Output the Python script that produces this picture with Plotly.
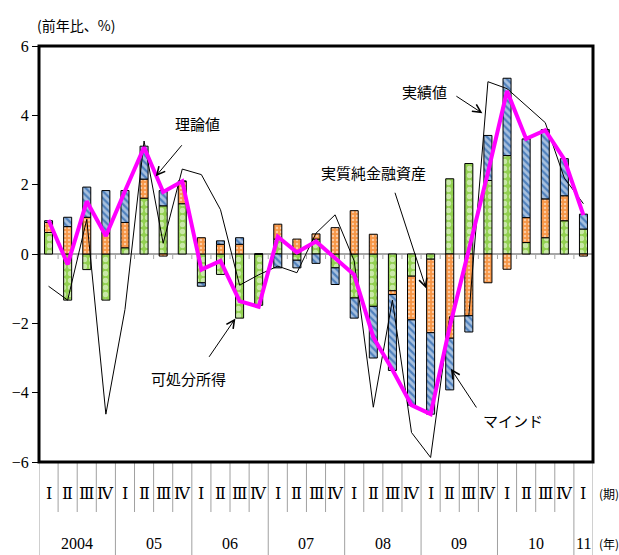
import plotly.graph_objects as go

# Quarters 2004 Q1 .. 2011 Q1
quarter_labels = ["Ⅰ", "Ⅱ", "Ⅲ", "Ⅳ"] * 7 + ["Ⅰ"]
year_labels = ["2004", "05", "06", "07", "08", "09", "10", "11"]

# Contributions (year-on-year, %)
disposable_income = [0.62, -1.33, -0.45, -1.33, 0.18, 1.61, 1.39, 1.45, -0.83, -0.59,
                     -1.85, -1.48, 0.43, -0.18, 0.43, -0.40, -1.27, -1.51, -1.06, -0.64,
                     -0.15, 2.17, 2.61, 2.12, 2.84, 0.33, 0.47, 0.96, 0.72]
net_financial_assets = [0.29, 0.79, 1.06, 0.60, 0.73, 0.55, -0.06, 0.65, 0.47, 0.28,
                        0.28, 0.0, 0.43, 0.43, 0.15, 0.76, 1.25, 0.57, -0.11, -1.26,
                        -2.12, -2.43, -1.78, -0.83, -0.44, 0.72, 1.12, 0.72, -0.06]
sentiment = [0.05, 0.27, 0.87, 1.23, 0.92, 0.95, 0.44, 0.0, -0.10, 0.10,
             0.19, 0.0, -0.40, -0.22, -0.27, -0.48, -0.58, -1.49, -2.19, -2.46,
             -2.35, -1.49, -0.47, 1.30, 2.23, 2.27, 2.00, 1.07, 0.43]

# Actual and model values (%)
actual = [-0.93, -1.33, 1.0, -4.62, -1.6, 3.26, 0.31, 2.45, 2.29, 1.28,
          -0.90, -0.60, -0.35, -0.54, 0.60, 1.13, -0.20, -4.42, -1.33, -5.15,
          -5.87, -1.80, -1.78, 4.97, 4.77, 4.27, 3.79, 2.19, 1.45]
theoretical = [0.98, -0.30, 1.52, 0.52, 1.82, 3.08, 1.79, 2.10, -0.45, -0.20,
               -1.36, -1.52, 0.50, 0.05, 0.36, -0.12, -0.60, -2.40, -3.34, -4.36,
               -4.62, -2.10, 0.10, 2.35, 4.70, 3.32, 3.57, 2.73, 1.12]

n = len(quarter_labels)
x = list(range(n))

BAR_W = 0.42
GREEN = "#92D050"
ORANGE = "#F79646"
BLUE = "#4F81BD"
SERIF = "'Liberation Serif', 'DejaVu Serif', serif"
ROMAN = "'DejaVu Serif', 'Noto Sans CJK JP', serif"
JP = "'Noto Sans CJK JP', sans-serif"

fig = go.Figure()

# coloured ground with white holes / stripes
bar_specs = [
    ("可処分所得", disposable_income, GREEN,
     dict(shape=".", fgcolor="white", bgcolor=GREEN, size=7, solidity=0.45)),
    ("実質純金融資産", net_financial_assets, ORANGE,
     dict(shape=".", fgcolor="white", bgcolor=ORANGE, size=4, solidity=0.3)),
    ("マインド", sentiment, BLUE,
     dict(shape="\\", fgcolor="white", bgcolor=BLUE, size=5, solidity=0.55)),
]
for name, vals, col, pat in bar_specs:
    fig.add_trace(go.Bar(
        x=x, y=vals, name=name, width=BAR_W,
        marker=dict(color=col, pattern=pat, line=dict(color="black", width=1)),
    ))

fig.add_trace(go.Scatter(x=x, y=actual, mode="lines", name="実績値",
                         line=dict(color="black", width=1)))
fig.add_trace(go.Scatter(x=x, y=theoretical, mode="lines", name="理論値",
                         line=dict(color="#FF00FF", width=4)))

shapes = []
# zero line with small ticks at quarter boundaries
shapes.append(dict(type="line", xref="x", yref="y", x0=-0.5, x1=n - 0.5, y0=0, y1=0,
                   line=dict(color="#A6A6A6", width=2), layer="below"))
for k in range(1, n):
    shapes.append(dict(type="line", xref="x", yref="y", ysizemode="pixel", yanchor=0,
                       x0=k - 0.5, x1=k - 0.5, y0=0, y1=-5,
                       line=dict(color="#A6A6A6", width=1), layer="below"))

# category separators below the plot
for k in range(n + 1):
    is_year = (k % 4 == 0) or k == n
    depth = 93 if is_year else 50
    shapes.append(dict(type="line", xref="x", yref="paper", ysizemode="pixel", yanchor=0,
                       x0=k - 0.5, x1=k - 0.5, y0=0, y1=-depth,
                       line=dict(color="#A0A0A0", width=1)))

# plot frame
shapes.append(dict(type="rect", xref="paper", yref="paper", x0=0, x1=1, y0=0, y1=1,
                   line=dict(color="black", width=3)))

annotations = []
for i, q in enumerate(quarter_labels):
    annotations.append(dict(x=i, y=0, xref="x", yref="paper", yshift=-31, text=q,
                            xanchor="center", yanchor="middle", showarrow=False,
                            font=dict(family=ROMAN, size=16, color="black")))
for j, yl in enumerate(year_labels):
    cx = 4 * j + 1.5 if j < 7 else 28
    annotations.append(dict(x=cx, y=0, xref="x", yref="paper", yshift=-81, text=yl,
                            xanchor="center", yanchor="middle", showarrow=False,
                            font=dict(family=SERIF, size=16, color="black")))

annotations.append(dict(x=1.0287, y=0, xref="paper", yref="paper", yshift=-31, text="(期)",
                        xanchor="center", yanchor="middle", showarrow=False,
                        font=dict(family=JP, size=12, color="black")))
annotations.append(dict(x=1.0287, y=0, xref="paper", yref="paper", yshift=-81, text="(年)",
                        xanchor="center", yanchor="middle", showarrow=False,
                        font=dict(family=JP, size=12, color="black")))
annotations.append(dict(x=0.066, y=1, xref="paper", yref="paper", yshift=21, text="(前年比、%)",
                        xanchor="center", yanchor="middle", showarrow=False,
                        font=dict(family=JP, size=14, color="black")))

# labels with leader arrows (positions in category / value units)
labels = [
    ("理論値", (7.78, 3.77), (7.04, 3.18), (5.61, 2.24)),
    ("実績値", (19.66, 4.70), (21.27, 4.58), (22.71, 4.06)),
    ("実質純金融資産", (17.0, 2.35), (18.11, 1.81), (19.76, -0.99)),
    ("可処分所得", (7.31, -3.59), (8.35, -3.01), (9.78, -1.86)),
    ("マインド", (24.29, -4.81), (22.45, -4.47), (21.06, -3.31)),
]
for txt, (tx, ty), (ax, ay), (hx, hy) in labels:
    annotations.append(dict(x=tx, y=ty, xref="x", yref="y", text=txt, showarrow=False,
                            xanchor="center", yanchor="middle",
                            font=dict(family=JP, size=15, color="black")))
    annotations.append(dict(x=hx, y=hy, xref="x", yref="y", ax=ax, ay=ay, axref="x", ayref="y",
                            text="", showarrow=True, arrowhead=5, arrowsize=1.6,
                            arrowwidth=1, arrowcolor="black"))

fig.update_layout(
    width=619, height=555,
    margin=dict(l=36, r=26, t=46, b=93),
    paper_bgcolor="white", plot_bgcolor="white",
    barmode="relative", bargap=0.5,
    showlegend=False,
    shapes=shapes, annotations=annotations,
    xaxis=dict(range=[-0.5, n - 0.5], showticklabels=False, ticks="", showgrid=False,
               zeroline=False, showline=False, fixedrange=True),
    yaxis=dict(range=[-6, 6], tickvals=[-6, -4, -2, 0, 2, 4, 6], ticks="outside",
               ticklen=6, tickcolor="black", tickwidth=1, showgrid=False, zeroline=False,
               showline=False, tickfont=dict(family=SERIF, size=16, color="black")),
)

fig.write_html("out.html")
